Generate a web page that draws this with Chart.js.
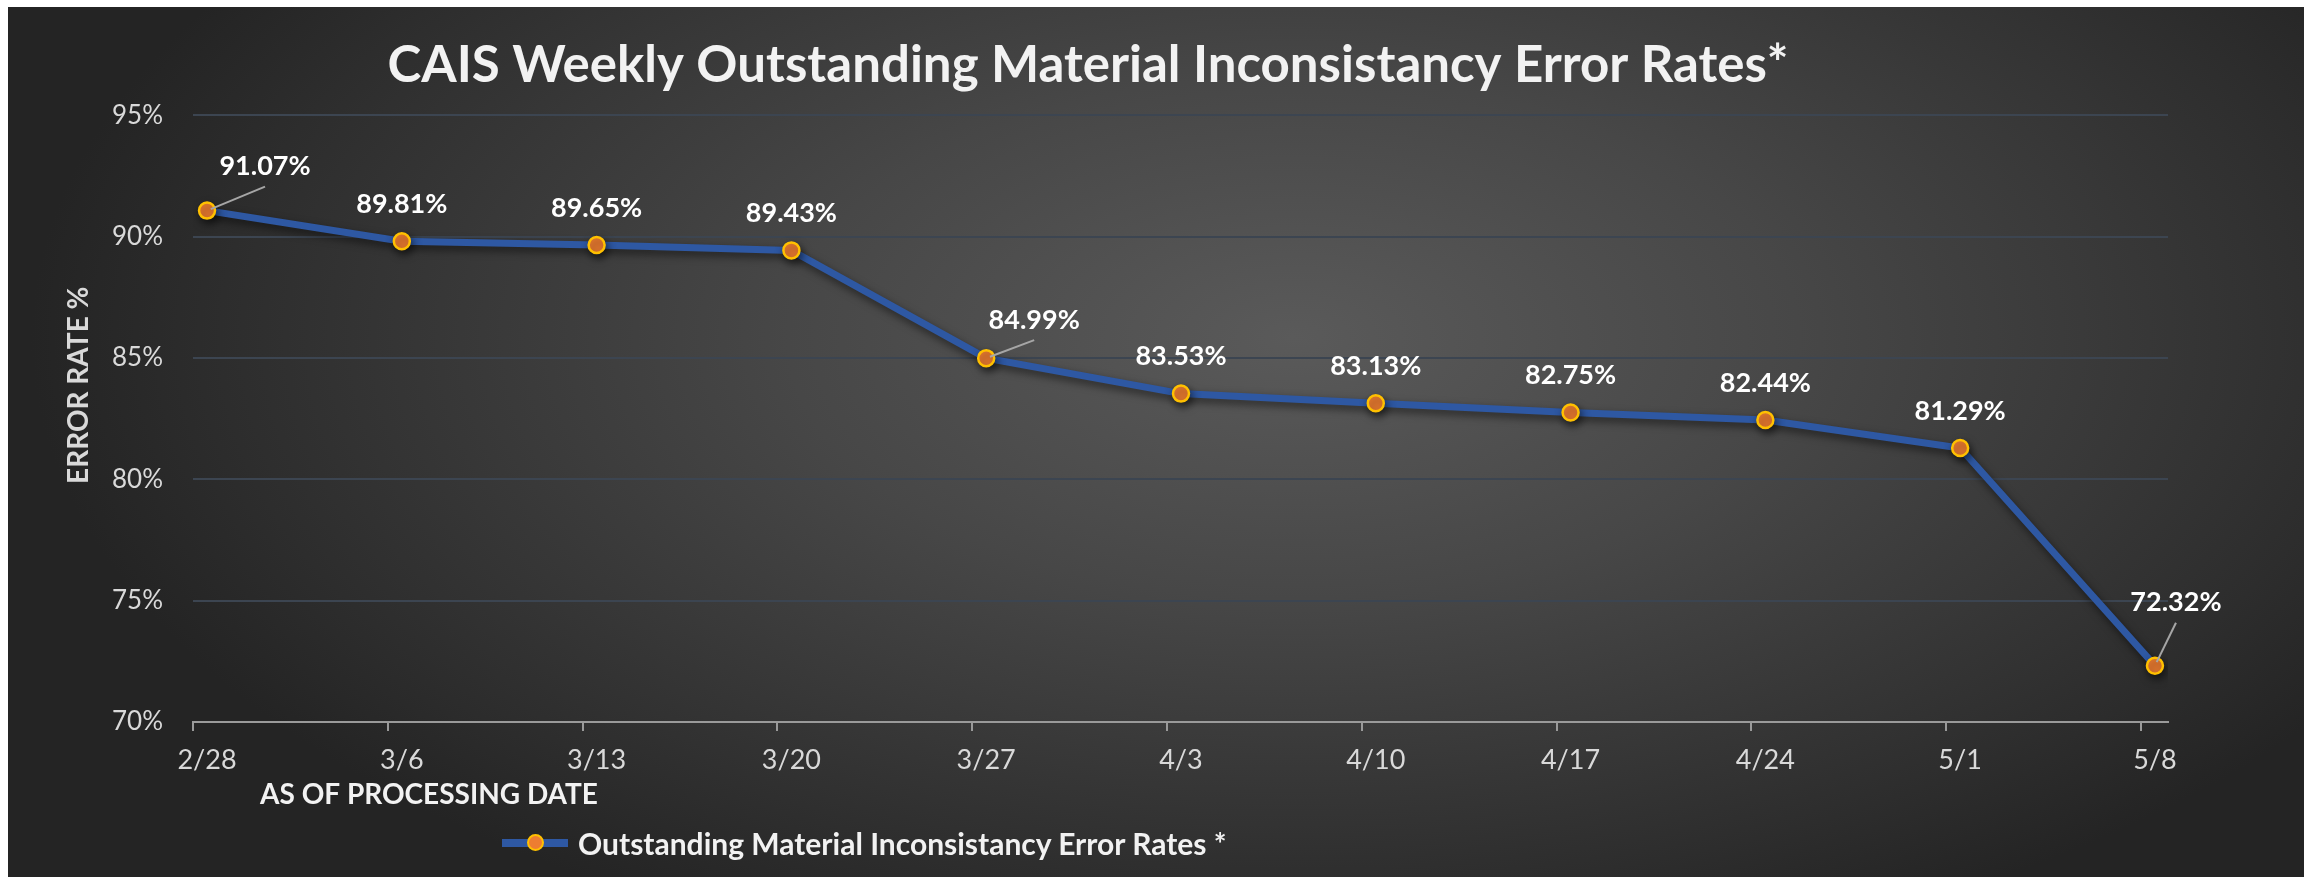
<!DOCTYPE html>
<html>
<head>
<meta charset="utf-8">
<script src="https://cdn.jsdelivr.net/npm/chart.js@4.4.1/dist/chart.umd.min.js"></script>
<style>
  body { margin: 0; background: #fff; }
  #wrap {
    position: absolute; left: 8px; top: 7px; width: 2296px; height: 870px;
    background: radial-gradient(ellipse 55% 75% at 56% 38%, #5a5a5a 0%, #474747 40%, #2d2d2d 85%, #242424 100%);
  }
  #legend {
    position: absolute; left: 494px; top: 818px;
    display: flex; align-items: center;
    font: bold 30px Lato; color: #f2f2f2;
  }
  .swatch { position: relative; width: 66px; height: 8px; margin-right: 10px; }
  .swatch i {
    position: absolute; left: 25px; top: -5px; width: 13px; height: 13px;
    border-radius: 50%; border: 2px solid #ffc000;
  }
</style>
</head>
<body>
<div id="wrap">
  <canvas id="chart"></canvas>
  <div id="legend"></div>
</div>
<script>
const weekLabels = ["2/28", "3/6", "3/13", "3/20", "3/27", "4/3", "4/10", "4/17", "4/24", "5/1", "5/8"]
const errorRates = [91.07, 89.81, 89.65, 89.43, 84.99, 83.53, 83.13, 82.75, 82.44, 81.29, 72.32]
const yTicks = [70, 75, 80, 85, 90, 95]

const seriesName = "Outstanding Material Inconsistancy Error Rates *"
const chartTitle = "CAIS Weekly Outstanding Material Inconsistancy Error Rates*"
const xAxisTitle = "AS OF PROCESSING DATE"
const yAxisTitle = "ERROR RATE %"

// label nudges in px: [dx, dy, leader line]
const labelNudge = [
  [58, -44, true], [0, -37], [0, -37], [0, -37], [48, -38, true],
  [0, -37], [0, -37], [0, -37], [0, -37], [0, -37], [21, -63, true],
]

// Excel draws the tick marks a little left of the points
const tickShift = 0.072

const lineShadow = {
  id: "lineShadow",
  beforeDatasetDraw(chart) {
    const c = chart.ctx
    c.save()
    c.shadowColor = "rgba(0,0,0,0.55)"
    c.shadowBlur = 8
    c.shadowOffsetX = 2
    c.shadowOffsetY = 4
  },
  afterDatasetDraw(chart) {
    chart.ctx.restore()
  },
}

//value labels over the points
const pointLabels = {
  id: "pointLabels",
  afterDatasetsDraw(chart) {
    const ctx = chart.ctx
    const pts = chart.getDatasetMeta(0).data
    ctx.save()
    ctx.font = "bold 27px Lato"
    ctx.fillStyle = "#ffffff"
    ctx.textAlign = "center"
    ctx.textBaseline = "middle"
    pts.forEach((p, i) => {
      const [dx, dy, leader] = labelNudge[i]
      const lx = p.x + dx
      const ly = p.y + dy
      if (leader) {
        const ex = lx, ey = ly + 20
        const len = Math.hypot(ex - p.x, ey - p.y)
        ctx.strokeStyle = "#a6a6a6"
        ctx.lineWidth = 2
        ctx.beginPath()
        ctx.moveTo(p.x + (ex - p.x) / len * 4, p.y + (ey - p.y) / len * 4)
        ctx.lineTo(ex, ey)
        ctx.stroke()
      }
      ctx.fillText(errorRates[i].toFixed(2) + "%", lx, ly)
    })
    ctx.restore()
  },
}

//both axis titles were moved by hand in the original, so draw them here
const axisTitles = {
  id: "axisTitles",
  afterDraw(chart) {
    const ctx = chart.ctx
    const x = chart.scales.x
    const y = chart.scales.y
    ctx.save()
    ctx.textAlign = "center"
    ctx.textBaseline = "middle"
    ctx.fillStyle = "#f2f2f2"
    ctx.font = "bold 28px Lato"
    ctx.fillText(xAxisTitle, x.left + 236, x.top + 73)
    ctx.fillStyle = "#d9d9d9"
    ctx.font = "bold 28px Lato"
    ctx.translate(y.left + 71, y.top + 270)
    ctx.rotate(-Math.PI / 2)
    ctx.fillText(yAxisTitle, 0, 0)
    ctx.restore()
  },
}

const htmlLegend = {
  id: "htmlLegend",
  afterUpdate(chart) {
    const box = document.getElementById("legend")
    box.innerHTML = ""
    chart.data.datasets.forEach(ds => {
      const sw = document.createElement("span")
      sw.className = "swatch"
      sw.style.background = ds.borderColor
      const dot = document.createElement("i")
      dot.style.background = ds.pointBackgroundColor
      sw.appendChild(dot)
      const txt = document.createElement("span")
      txt.textContent = ds.label
      box.appendChild(sw)
      box.appendChild(txt)
    })
  },
}

const chartData = {
  datasets: [
    {
      label: seriesName,
      data: errorRates.map((v, i) => ({ x: i, y: v })),
      borderColor: "#2e58a3",
      borderWidth: 7,
      pointRadius: 8,
      pointBorderWidth: 2.5,
      pointBackgroundColor: "#ed7d31",
      pointBorderColor: "#ffc000",
      tension: 0,
    },
  ],
}

const chartConfig = {
  type: "line",
  data: chartData,
  plugins: [lineShadow, pointLabels, axisTitles, htmlLegend],
  options: {
    responsive: true,
    maintainAspectRatio: false,
    devicePixelRatio: 1,
    animation: false,
    layout: { padding: { left: 0, right: 136, top: 0, bottom: 0 } },
    plugins: {
      legend: { display: false },
      tooltip: { enabled: false },
      title: {
        display: true,
        text: chartTitle,
        color: "#f2f2f2",
        font: { family: "Lato", size: 51, weight: "bold" },
        padding: { top: 28, bottom: 19 },
      },
    },
    scales: {
      x: {
        type: "linear",
        min: -tickShift,
        max: weekLabels.length - 1 + 0.067,
        afterBuildTicks: s => {
          s.ticks = weekLabels.map((_, i) => ({ value: i - tickShift }))
        },
        ticks: {
          autoSkip: false,
          maxRotation: 0,
          labelOffset: 14,
          padding: 13,
          color: "#d9d9d9",
          font: { family: "Lato", size: 27 },
          callback: (v, i) => weekLabels[i],
        },
        grid: { drawOnChartArea: false, color: "#9a9a9a", lineWidth: 2, tickLength: 9 },
        border: { color: "#9a9a9a", width: 2 },
        afterFit: s => { s.height = 155 },
      },
      y: {
        min: yTicks[0],
        max: yTicks[yTicks.length - 1],
        ticks: {
          stepSize: 5,
          padding: 30,
          color: "#d9d9d9",
          font: { family: "Lato", size: 26 },
          callback: v => v + "%",
        },
        grid: { color: "#3c4551", lineWidth: 2, drawTicks: false },
        border: { display: false },
        afterFit: s => { s.width = 185 },
      },
    },
  },
}

const myChart = new Chart(document.getElementById("chart"), chartConfig)
</script>
</body>
</html>
